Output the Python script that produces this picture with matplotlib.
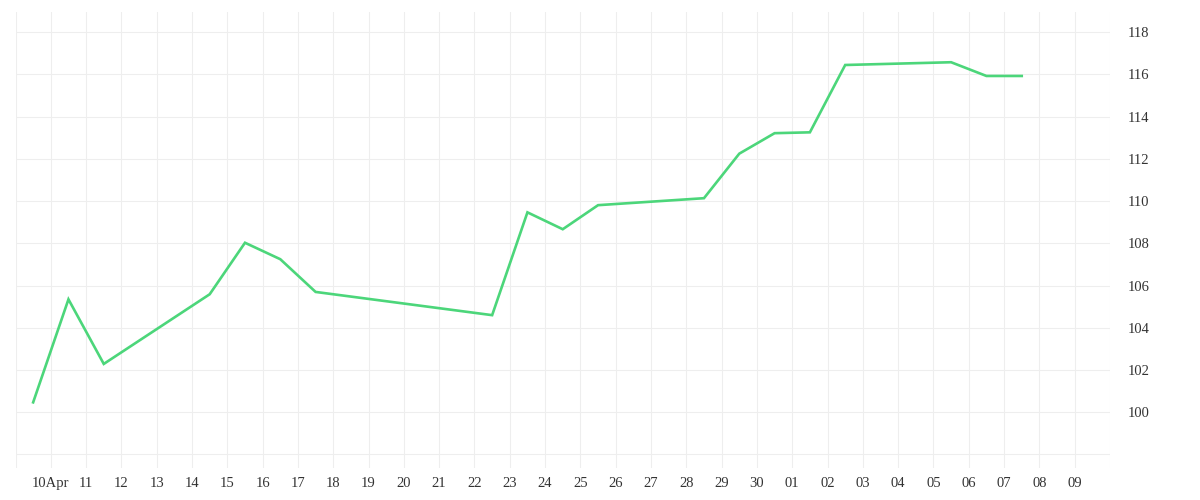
import matplotlib
matplotlib.use("Agg")
import matplotlib.pyplot as plt
from datetime import datetime, timedelta

# Data (timestamps at midday of each trading day)
dates = ["2024-04-09", "2024-04-10", "2024-04-11", "2024-04-14", "2024-04-15",
         "2024-04-16", "2024-04-17", "2024-04-22", "2024-04-23", "2024-04-24",
         "2024-04-25", "2024-04-28", "2024-04-29", "2024-04-30", "2024-05-01",
         "2024-05-02", "2024-05-05", "2024-05-06", "2024-05-07"]
values = [100.47, 105.35, 102.29, 105.59, 108.03,
          107.25, 105.70, 104.60, 109.47, 108.67,
          109.81, 110.14, 112.25, 113.22, 113.26,
          116.45, 116.58, 115.93, 115.93]

# Axis ticks
x_tick_dates = [datetime(2024, 4, 9) + timedelta(days=i) for i in range(32)]
x_tick_labels = ([""] + ["10Apr"] + [f"{d:02d}" for d in range(11, 31)]
                 + [f"{d:02d}" for d in range(1, 10)] + [""])
y_ticks = [98, 100, 102, 104, 106, 108, 110, 112, 114, 116, 118]
y_tick_labels = [""] + [str(v) for v in y_ticks[1:]]

x = [datetime.strptime(d, "%Y-%m-%d") + timedelta(hours=12) for d in dates]

fig = plt.figure(figsize=(12, 5), dpi=100)
ax = fig.add_axes([15.5 / 1200, 32 / 500, (1110 - 15.5) / 1200, (468 - 12) / 500])

ax.plot(x, values, color="#4cd67a", linewidth=1.9, solid_joinstyle="miter")

ax.set_xlim(datetime(2024, 4, 9), datetime(2024, 5, 10))
ax.set_ylim(97.36, 118.96)

ax.set_xticks(x_tick_dates)
ax.set_xticklabels(x_tick_labels)
ax.set_yticks(y_ticks)
ax.set_yticklabels(y_tick_labels)

ax.yaxis.tick_right()
ax.grid(True, color="#eeeeee", linewidth=0.8)
ax.set_axisbelow(True)
for s in ax.spines.values():
    s.set_visible(False)

fam = ["Liberation Serif", "DejaVu Serif"]
for lab in ax.get_xticklabels() + ax.get_yticklabels():
    lab.set_fontfamily(fam)
    lab.set_fontsize(10.5)
    lab.set_color("#333333")
for lab in ax.get_xticklabels():
    lab.set_verticalalignment("baseline")
ax.tick_params(axis="both", length=0)
ax.tick_params(axis="x", pad=14)
ax.tick_params(axis="y", pad=13)

fig.savefig("out.png", dpi=100)
